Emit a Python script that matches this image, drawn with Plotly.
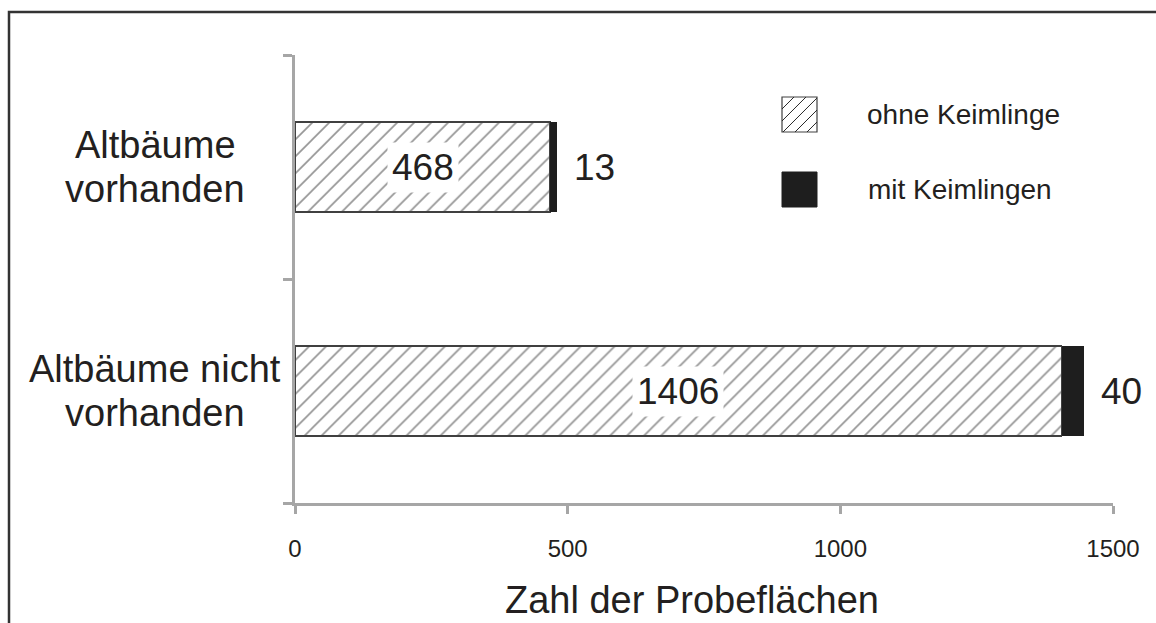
import plotly.graph_objects as go

# ---- data ----
categories = ["Altbäume vorhanden", "Altbäume nicht vorhanden"]
cat_lines = [["Altbäume", "vorhanden"], ["Altbäume nicht", "vorhanden"]]
ohne_keimlinge = [468, 1406]
mit_keimlingen = [13, 40]
series_names = ["ohne Keimlinge", "mit Keimlingen"]
x_ticks = [0, 500, 1000, 1500]

W, H = 1156, 623
# plot area in page px
L, R, T, B = 295, 1113, 55, 503


def px_x(p):
    return (p - L) / (R - L)


def px_y(p):
    return (B - p) / (B - T)


FONT = "Liberation Sans, Arial, sans-serif"
TXT = "#231f20"
AXC = "#a6a6a6"

fig = go.Figure()
fig.add_trace(go.Bar(
    y=categories, x=ohne_keimlinge, orientation="h", name=series_names[0],
    marker=dict(color="white", line=dict(color="#404040", width=1.5),
                pattern=dict(shape="/", fgcolor="#2a2a2a", bgcolor="white",
                             size=12, solidity=0.14)),
    width=0.4, showlegend=False,
))
fig.add_trace(go.Bar(
    y=categories, x=mit_keimlingen, orientation="h", name=series_names[1],
    marker=dict(color="#1e1e1e", line=dict(width=0)),
    width=0.4, showlegend=False,
))

annotations = []
# value labels
for cat, a, b in zip(categories, ohne_keimlinge, mit_keimlingen):
    annotations.append(dict(x=a / 2, y=cat, xref="x", yref="y", text=str(a),
                            showarrow=False, bgcolor="white", borderpad=4,
                            font=dict(family=FONT, size=37, color=TXT)))
    annotations.append(dict(x=a + b, y=cat, xref="x", yref="y", text=str(b),
                            showarrow=False, xanchor="left", xshift=15,
                            font=dict(family=FONT, size=37, color=TXT)))
# category labels (centered, two lines)
for cat, lines in zip(categories, cat_lines):
    for i, line in enumerate(lines):
        annotations.append(dict(x=px_x(155), y=cat, xref="paper", yref="y",
                                text=line, showarrow=False, xanchor="center",
                                yshift=22 - 44 * i,
                                font=dict(family=FONT, size=38, color=TXT)))
# x-axis title
annotations.append(dict(x=px_x(692), y=px_y(600), xref="paper", yref="paper",
                        text="Zahl der Probeflächen", showarrow=False,
                        xanchor="center", yanchor="middle",
                        font=dict(family=FONT, size=38, color=TXT)))
# legend texts
annotations.append(dict(x=px_x(865), y=px_y(114), xref="paper", yref="paper",
                        text=series_names[0], showarrow=False, xanchor="left",
                        yanchor="middle", font=dict(family=FONT, size=28, color=TXT)))
annotations.append(dict(x=px_x(866), y=px_y(189), xref="paper", yref="paper",
                        text=series_names[1], showarrow=False, xanchor="left",
                        yanchor="middle", font=dict(family=FONT, size=28, color=TXT)))

shapes = []
# outer frame
shapes.append(dict(type="rect", xref="paper", yref="paper",
                   x0=px_x(9), x1=px_x(1220), y0=px_y(700), y1=px_y(12),
                   line=dict(color="#333333", width=2.5), fillcolor="rgba(0,0,0,0)",
                   layer="above"))
# legend: hatched square
sx0, sx1, sy0, sy1 = 782, 817, 97, 132
shapes.append(dict(type="rect", xref="paper", yref="paper",
                   x0=px_x(sx0), x1=px_x(sx1), y0=px_y(sy1), y1=px_y(sy0),
                   line=dict(color="#404040", width=1.2), fillcolor="white"))
path = ""
step = 12
size = sx1 - sx0
for k in range(step, 2 * size, step):
    xa, ya = sx0 + k, sy0
    xb, yb = sx0 + k - size, sy1
    if xa > sx1:
        ya = sy0 + (xa - sx1)
        xa = sx1
    if xb < sx0:
        yb = sy1 - (sx0 - xb)
        xb = sx0
    path += f"M {px_x(xa):.5f},{px_y(ya):.5f} L {px_x(xb):.5f},{px_y(yb):.5f} "
shapes.append(dict(type="path", xref="paper", yref="paper", path=path,
                   line=dict(color="#2a2a2a", width=1)))
# legend: black square
shapes.append(dict(type="rect", xref="paper", yref="paper",
                   x0=px_x(782), x1=px_x(817), y0=px_y(207), y1=px_y(172),
                   line=dict(color="#1e1e1e", width=1), fillcolor="#1e1e1e"))

fig.update_layout(
    width=W, height=H,
    margin=dict(l=L, r=W - R, t=T, b=H - B, pad=0),
    paper_bgcolor="white", plot_bgcolor="white",
    barmode="stack",
    showlegend=False,
    annotations=annotations,
    shapes=shapes,
    font=dict(family=FONT, color=TXT),
)
fig.update_xaxes(range=[0, 1500], tickvals=x_ticks, ticktext=[str(v) for v in x_ticks],
                 ticks="outside", ticklen=8, tickwidth=3, tickcolor=AXC,
                 showline=True, linecolor=AXC, linewidth=3, showgrid=False,
                 zeroline=False, ticklabelstandoff=14,
                 tickfont=dict(family=FONT, size=24, color=TXT))
fig.update_yaxes(type="category", categoryorder="array",
                 categoryarray=list(reversed(categories)),
                 range=[-0.5, 1.5], tickson="boundaries",
                 ticks="outside", ticklen=9, tickwidth=3, tickcolor=AXC,
                 showline=True, linecolor=AXC, linewidth=3, showgrid=False,
                 showticklabels=False, zeroline=False)

fig.write_html(
    "out.html",
    config={"displayModeBar": False},
    post_script="document.body.style.margin='0';document.body.style.overflow='hidden';",
)
